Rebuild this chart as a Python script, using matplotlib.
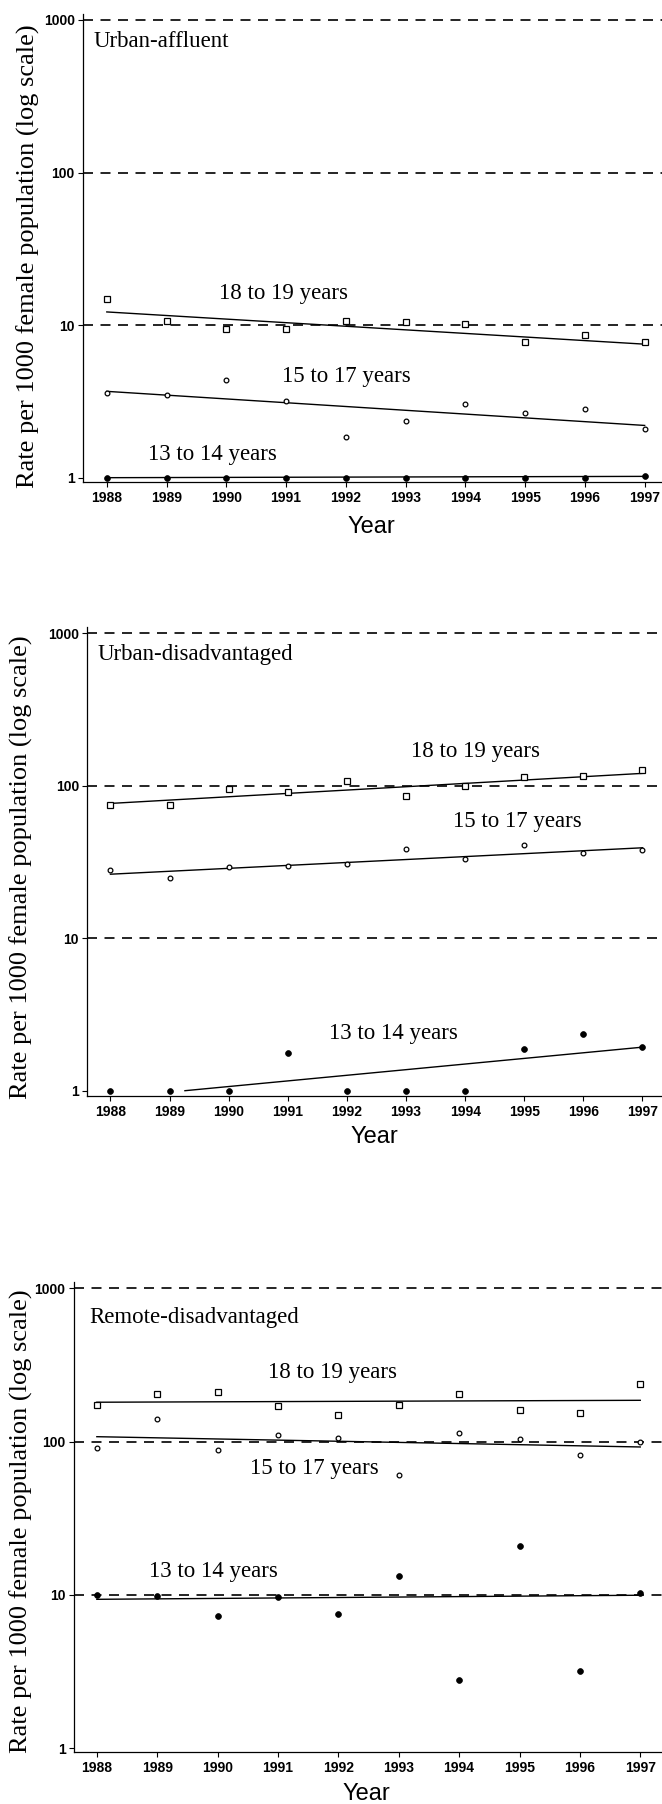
import matplotlib
matplotlib.use("Agg")
import matplotlib.pyplot as plt
from matplotlib.ticker import FixedLocator, NullLocator

# ---------------- data ----------------
years = [1988, 1989, 1990, 1991, 1992, 1993, 1994, 1995, 1996, 1997]

panel_titles = ["Urban-affluent", "Urban-disadvantaged", "Remote-disadvantaged"]
age_groups = ["18 to 19 years", "15 to 17 years", "13 to 14 years"]

# Urban-affluent
ua_18_19 = [14.8, 10.7, 9.5, 9.4, 10.7, 10.5, 10.2, 7.7, 8.6, 7.7]
ua_15_17 = [3.6, 3.5, 4.4, 3.2, 1.85, 2.36, 3.05, 2.67, 2.82, 2.07]
ua_13_14 = [1.0, 1.0, 1.0, 1.0, 1.0, 1.0, 1.0, 1.0, 1.0, 1.02]
ua_trend_x = [[1988, 1997], [1988, 1997], [1988, 1997]]
ua_trend_y = [[12.2, 7.5], [3.68, 2.2], [1.0, 1.02]]

# Urban-disadvantaged
ud_18_19 = [74.7, 75, 95, 91.4, 108, 85.6, 100, 113.5, 115.8, 126.8]
ud_15_17 = [27.9, 25, 29.4, 29.7, 30.9, 38.5, 33, 40.6, 36, 37.8]
ud_13_14 = [1.0, 1.0, 1.0, 1.76, 1.0, 1.0, 1.0, 1.87, 2.37, 1.93]
ud_trend_x = [[1988, 1997], [1988, 1997], [1989.26, 1997]]
ud_trend_y = [[76.6, 120.6], [26.3, 39.2], [1.0, 1.93]]

# Remote-disadvantaged
rd_18_19 = [173, 205, 210, 170, 149, 173, 203, 160, 153.5, 239]
rd_15_17 = [90.4, 139.6, 88.2, 110, 106, 60.4, 114, 103.5, 82.3, 100]
rd_13_14 = [10.0, 9.86, 7.3, 9.75, 7.56, 13.3, 2.8, 20.8, 3.18, 10.3]
rd_trend_x = [[1988, 1997], [1988, 1997], [1988, 1997]]
rd_trend_y = [[180.7, 186], [107.7, 92.3], [9.37, 9.96]]

y_ticks = [1, 10, 100, 1000]
y_ticklabels = ["1", "10", "100", "1000"]
grid_levels = [10, 100, 1000]

ylabel_text = "Rate per 1000 female population (log scale)"
xlabel_text = "Year"

# label placements (data coords): title, 18-19, 15-17, 13-14
ua_label_pos = [(1987.77, 723), (1990.95, 16.2), (1992.01, 4.6), (1989.76, 1.41)]
ud_label_pos = [(1987.79, 721), (1994.18, 167), (1994.89, 58), (1992.78, 2.38)]
rd_label_pos = [(1987.87, 644), (1991.9, 281), (1991.6, 66.7), (1989.93, 14.3)]

panels = [
    dict(s18=ua_18_19, s15=ua_15_17, s13=ua_13_14, tx=ua_trend_x, ty=ua_trend_y,
         lab=ua_label_pos, title=panel_titles[0],
         px=(83.2, 14, 482), xlim=(1987.605, 1997.29), ylim=(0.937, 1094),
         ylab=(-0.0954, 0.482), xlab=(0.498, -0.073)),
    dict(s18=ud_18_19, s15=ud_15_17, s13=ud_13_14, tx=ud_trend_x, ty=ud_trend_y,
         lab=ud_label_pos, title=panel_titles[1],
         px=(87.4, 626.7, 1096), xlim=(1987.61, 1997.33), ylim=(0.923, 1105),
         ylab=(-0.1156, 0.488), xlab=(0.4995, -0.0645)),
    dict(s18=rd_18_19, s15=rd_15_17, s13=rd_13_14, tx=rd_trend_x, ty=rd_trend_y,
         lab=rd_label_pos, title=panel_titles[2],
         px=(73.9, 1281.7, 1752.3), xlim=(1987.62, 1997.36), ylim=(0.942, 1104),
         ylab=(-0.09, 0.4915), xlab=(0.497, -0.066)),
]

W, H = 662, 1804
fig = plt.figure(figsize=(W / 100, H / 100), dpi=100)
fig.patch.set_facecolor("white")

serif = "Liberation Serif"
sans = "Liberation Sans"

for p in panels:
    left, top, bottom = p["px"]
    ax = fig.add_axes([left / W, 1 - bottom / H, 1 - left / W, (bottom - top) / H])
    ax.set_yscale("log")
    ax.set_xlim(*p["xlim"])
    ax.set_ylim(*p["ylim"])

    for v in grid_levels:
        ax.axhline(v, color="black", lw=1.2, ls=(0, (6, 4.5)), zorder=1)

    # trend lines
    for tx, ty in zip(p["tx"], p["ty"]):
        ax.plot(tx, ty, color="black", lw=1.0, zorder=2)

    # data points
    ax.plot(years, p["s18"], ls="none", marker="s", ms=3.8, mfc="white",
            mec="black", mew=0.9, zorder=3)
    ax.plot(years, p["s15"], ls="none", marker="o", ms=3.4, mfc="white",
            mec="black", mew=0.9, zorder=3)
    ax.plot(years, p["s13"], ls="none", marker="o", ms=4.2, mfc="black",
            mec="black", mew=0.5, zorder=3)

    # labels
    tpos, p18, p15, p13 = p["lab"]
    ax.text(tpos[0], tpos[1], p["title"], fontsize=16.5, family=serif,
            ha="left", va="center")
    ax.text(p18[0], p18[1], age_groups[0], fontsize=16.5, family=serif,
            ha="center", va="center")
    ax.text(p15[0], p15[1], age_groups[1], fontsize=16.5, family=serif,
            ha="center", va="center")
    ax.text(p13[0], p13[1], age_groups[2], fontsize=16.5, family=serif,
            ha="center", va="center")

    # axes styling
    for s in ["top", "right"]:
        ax.spines[s].set_visible(False)
    for s in ["left", "bottom"]:
        ax.spines[s].set_linewidth(0.9)
    ax.yaxis.set_major_locator(FixedLocator(y_ticks))
    ax.yaxis.set_minor_locator(NullLocator())
    ax.set_yticklabels(y_ticklabels)
    ax.set_xticks(years)
    ax.set_xticklabels([str(y) for y in years])
    ax.tick_params(axis="both", which="major", length=3.6, width=0.8,
                   direction="out", labelsize=10)
    ax.tick_params(axis="x", pad=2.7)
    ax.tick_params(axis="y", pad=2.5)
    for lab in ax.get_xticklabels() + ax.get_yticklabels():
        lab.set_family(sans)
        lab.set_fontweight("bold")

    ax.set_ylabel(ylabel_text, fontsize=19, family=serif)
    ax.yaxis.label.set_va("center")
    ax.yaxis.set_label_coords(*p["ylab"])
    ax.set_xlabel(xlabel_text, fontsize=17, family=sans)
    ax.xaxis.set_label_coords(*p["xlab"])

fig.savefig("out.png", dpi=100, facecolor="white")
